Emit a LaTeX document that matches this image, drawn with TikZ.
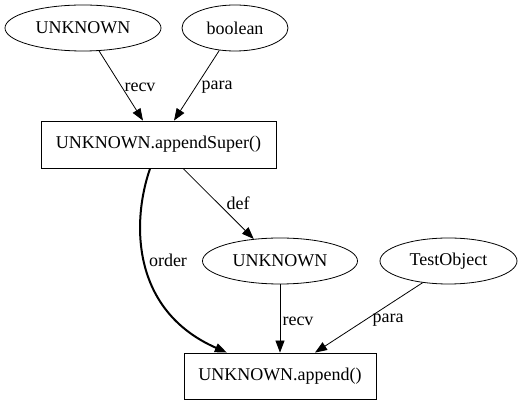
\documentclass[tikz,border=0pt]{standalone}
\usepackage{fontspec}
\setmainfont{Liberation Serif}
\usetikzlibrary{arrows.meta,shapes.geometric,calc}
\begin{document}
\begin{tikzpicture}[x=1pt,y=1pt,
  every node/.style={font=\fontsize{18}{20}\selectfont, inner sep=0pt},
  ell/.style={draw, ellipse, line width=0.8pt, minimum height=46pt},
  box/.style={draw, rectangle, line width=0.8pt},
  edge/.style={draw, line width=0.8pt, -{Triangle[length=12pt,width=9pt]}},
  boldedge/.style={draw, line width=2pt, -{Triangle[length=12pt,width=9pt]}},
  lbl/.style={}
]
\useasboundingbox (0,0) rectangle (523,407);
\node[ell, minimum width=156pt] (u1) at (83,379) {UNKNOWN};
\node[ell, minimum width=106pt] (bo) at (235,379) {boolean};
\node[box, minimum width=235pt, minimum height=47pt] (b1) at (158.5,262.5) {UNKNOWN.appendSuper()};
\node[ell, minimum width=155pt] (u2) at (280,146) {UNKNOWN};
\node[ell, minimum width=137pt] (to) at (448.5,146) {TestObject};
\node[box, minimum width=192pt, minimum height=46pt] (b2) at (280,31) {UNKNOWN.append()};

\draw[edge] (u1.-55) -- ([xshift=-15.5pt]b1.north);
\draw[edge] (bo.-125) -- ([xshift=15.5pt]b1.north);
\draw[edge] ([xshift=24.5pt]b1.south) -- (u2.140);
\draw[boldedge] (b1) .. controls (132,187) and (130,97) .. (b2);
\draw[edge] (u2.south) -- (b2.north);
\draw[edge] (to.-140) -- ([xshift=35pt]b2.north);

\node[lbl] (l1) at (140,320) {recv};
\node[lbl] (l2) at (217,320) {para};
\node[lbl] (l3) at (238,204) {def};
\node[lbl] (l4) at (168,147) {order};
\node[lbl] (l5) at (298,86) {recv};
\node[lbl] (l6) at (388,87) {para};
\end{tikzpicture}
\end{document}
